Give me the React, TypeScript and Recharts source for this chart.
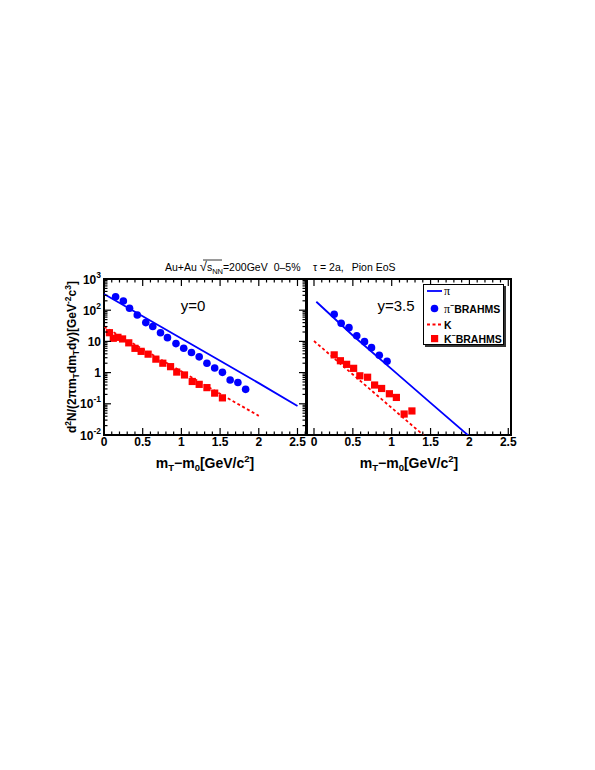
import { ComposedChart, Line, Scatter, XAxis, YAxis, Legend, ReferenceArea } from 'recharts'

const FONT = '"Liberation Sans", Arial, Helvetica, sans-serif'
const BLUE = '#0000ff'
const RED = '#ff0000'
const PLOT_H = 156

// y = 0 panel
const piModelY0X = [0, 0.5, 1, 1.5, 2, 2.5]
const piModelY0 = [330, 64, 12.3, 2.4, 0.46, 0.085]
const kModelY0X = [0, 0.5, 1, 1.5, 2]
const kModelY0 = [29.5, 5.7, 1.1, 0.21, 0.041]
const piDataY0X = [0.15, 0.25, 0.33, 0.43, 0.54, 0.63, 0.73, 0.82, 0.93, 1.03, 1.13, 1.23, 1.33, 1.43, 1.53, 1.63, 1.73, 1.83]
const piDataY0 = [271, 197, 115, 70, 40, 30, 19, 13.2, 8.5, 6.0, 4.4, 3.2, 2.0, 1.41, 1.02, 0.58, 0.48, 0.29]
const kDataY0X = [0.07, 0.12, 0.18, 0.24, 0.32, 0.4, 0.48, 0.57, 0.67, 0.76, 0.86, 0.94, 1.04, 1.14, 1.23, 1.33, 1.43, 1.53]
const kDataY0 = [19, 12.6, 13.5, 12, 9, 6, 4.8, 3.9, 2.7, 2.0, 1.55, 1.04, 0.84, 0.52, 0.42, 0.33, 0.22, 0.155]

// y = 3.5 panel
const piModelY35X = [0.03, 0.5, 1, 1.5, 2]
const piModelY35 = [187, 15.5, 1.29, 0.107, 0.009]
const kModelY35X = [0, 0.5, 1, 1.41]
const kModelY35 = [10.3, 0.87, 0.074, 0.0098]
const piDataY35X = [0.26, 0.35, 0.45, 0.55, 0.65, 0.74, 0.84, 0.94]
const piDataY35 = [74, 38, 27.6, 15.2, 9.8, 6.3, 3.6, 2.3]
const kDataY35X = [0.26, 0.34, 0.42, 0.51, 0.59, 0.69, 0.78, 0.87, 0.97, 1.06, 1.16, 1.26]
const kDataY35 = [3.7, 2.4, 1.84, 1.37, 0.79, 0.71, 0.4, 0.31, 0.21, 0.16, 0.047, 0.059]

const X_TICKS_LEFT = [0, 0.1, 0.2, 0.3, 0.4, 0.5, 0.6, 0.7, 0.8, 0.9, 1, 1.1, 1.2, 1.3, 1.4, 1.5, 1.6, 1.7, 1.8, 1.9, 2, 2.1, 2.2, 2.3, 2.4, 2.5, 2.6]
const X_TICKS_RIGHT = [0, 0.1, 0.2, 0.3, 0.4, 0.5, 0.6, 0.7, 0.8, 0.9, 1, 1.1, 1.2, 1.3, 1.4, 1.5, 1.6, 1.7, 1.8, 1.9, 2, 2.1, 2.2, 2.3, 2.4, 2.5]
const Y_TICKS = [
  0.01, 0.02, 0.03, 0.04, 0.05, 0.06, 0.07, 0.08, 0.09,
  0.1, 0.2, 0.3, 0.4, 0.5, 0.6, 0.7, 0.8, 0.9,
  1, 2, 3, 4, 5, 6, 7, 8, 9,
  10, 20, 30, 40, 50, 60, 70, 80, 90,
  100, 200, 300, 400, 500, 600, 700, 800, 900, 1000,
]
const Y_LABELS: Record<string, [string, string]> = {
  '0.01': ['10', '-2'],
  '0.1': ['10', '-1'],
  '1': ['1', ''],
  '10': ['10', ''],
  '100': ['10', '2'],
  '1000': ['10', '3'],
}

const zip = (xs: number[], ys: number[]) => xs.map((x, i) => ({ x, y: ys[i] }))

// bottom axis tick: draws inward ticks at bottom and top of the frame plus the label
function XTick({ x, y, payload }: any) {
  const v = payload.value
  const major = Math.abs(v * 2 - Math.round(v * 2)) < 1e-6
  const len = major ? 7 : 3.5
  const top = y - PLOT_H
  return (
    <g>
      <line x1={x} y1={y} x2={x} y2={y - len} stroke="#000" strokeWidth={1.2} />
      <line x1={x} y1={top} x2={x} y2={top + len} stroke="#000" strokeWidth={1.2} />
      {major && (
        <text x={x} y={y + 11} textAnchor="middle" fontFamily={FONT} fontWeight="bold" fontSize={12} fill="#000">
          {Number.isInteger(v) ? String(v) : v.toFixed(1)}
        </text>
      )}
    </g>
  )
}

// left axis tick: inward ticks on both sides of the frame, label optional
function YTick({ x, y, payload, plotW, showLabel }: any) {
  const v = payload.value
  const lg = Math.log10(v)
  const major = Math.abs(lg - Math.round(lg)) < 1e-6
  const len = major ? 7 : 3.5
  const right = x + plotW
  const lab = Y_LABELS[String(v)]
  return (
    <g>
      <line x1={x} y1={y} x2={x + len} y2={y} stroke="#000" strokeWidth={1.2} />
      <line x1={right} y1={y} x2={right - len} y2={y} stroke="#000" strokeWidth={1.2} />
      {showLabel && major && lab && (
        <text x={x - 3} y={y + 4.5} textAnchor="end" fontFamily={FONT} fontWeight="bold" fontSize={12} fill="#000">
          {lab[0]}
          {lab[1] && <tspan fontSize={8.5} dy={-6}>{lab[1]}</tspan>}
        </text>
      )}
    </g>
  )
}

const circle = (p: any) => <circle cx={p.cx} cy={p.cy} r={3.8} fill={BLUE} />
const square = (p: any) => <rect x={p.cx - 3.6} y={p.cy - 3.6} width={7.2} height={7.2} fill={RED} />

function LegendBox() {
  const t = { fontFamily: FONT, fontSize: 10.5, fontWeight: 'bold' as const, fill: '#000' }
  return (
    <div style={{ width: 79, height: 59, background: '#fff', border: '1px solid #000', boxShadow: '2px 2px 0 #333' }}>
      <svg width={79} height={59} style={{ display: 'block', overflow: 'visible' }}>
        <line x1={3} y1={6} x2={18} y2={6} stroke={BLUE} strokeWidth={1.8} />
        <text x={20} y={10} {...t} fontWeight="normal" fontFamily="'Liberation Serif', serif" fontSize={12}>π</text>
        <circle cx={10.5} cy={23.5} r={3.8} fill={BLUE} />
        <text x={20} y={27.5} {...t}>
          <tspan fontWeight="normal" fontFamily="'Liberation Serif', serif" fontSize={12}>π</tspan>
          <tspan fontSize={7} dy={-5}>−</tspan>
          <tspan dy={5}>BRAHMS</tspan>
        </text>
        <line x1={3} y1={39.5} x2={18} y2={39.5} stroke={RED} strokeWidth={1.8} strokeDasharray="3 2.5" />
        <text x={20} y={43.5} {...t}>K</text>
        <rect x={7} y={50} width={7.2} height={7.2} fill={RED} />
        <text x={20} y={57.5} {...t}>
          K<tspan fontSize={7} dy={-5}>−</tspan>
          <tspan dy={5}>BRAHMS</tspan>
        </text>
      </svg>
    </div>
  )
}

function XTitle({ cx }: { cx: number }) {
  return (
    <text x={cx} y={468} textAnchor="middle" fontFamily={FONT} fontWeight="bold" fontSize={14} fill="#000">
      m<tspan fontSize={9.5} dy={3}>T</tspan>
      <tspan dy={-3}>−m</tspan>
      <tspan fontSize={9.5} dy={3}>0</tspan>
      <tspan dy={-3}>[GeV/c</tspan>
      <tspan fontSize={9.5} dy={-6}>2</tspan>
      <tspan dy={6}>]</tspan>
    </text>
  )
}

const LEFT_DOMAIN = [0, 2.61]
const RIGHT_DOMAIN = [-0.09, 2.535]

export default function App() {
  return (
    <div style={{ position: 'absolute', left: 0, top: 0, width: 595, height: 770 }}>
      <div style={{ position: 'absolute', left: 40, top: 259 }}>
        <ComposedChart width={268} height={206} margin={{ top: 20, right: 2, bottom: 0, left: 0 }}>
          <XAxis type="number" dataKey="x" domain={LEFT_DOMAIN} ticks={X_TICKS_LEFT} interval={0} allowDataOverflow
            height={30} tickSize={0} tickMargin={0} tickLine={false} axisLine={false}
            tick={(p: any) => <XTick {...p} />} />
          <YAxis type="number" dataKey="y" scale="log" domain={[0.01, 1000]} ticks={Y_TICKS} interval={0} allowDataOverflow
            width={64} tickSize={0} tickMargin={0} tickLine={false} axisLine={false}
            tick={(p: any) => <YTick {...p} plotW={202} showLabel />} />
          <ReferenceArea x1={LEFT_DOMAIN[0]} x2={LEFT_DOMAIN[1]} y1={0.01} y2={1000} fill="none" stroke="#000" strokeWidth={2} ifOverflow="visible" />
          <Line data={zip(piModelY0X, piModelY0)} dataKey="y" type="linear" stroke={BLUE} strokeWidth={1.8} dot={false} isAnimationActive={false} />
          <Line data={zip(kModelY0X, kModelY0)} dataKey="y" type="linear" stroke={RED} strokeWidth={1.8} strokeDasharray="3 2.5" dot={false} isAnimationActive={false} />
          <Scatter data={zip(piDataY0X, piDataY0)} dataKey="y" shape={circle} isAnimationActive={false} />
          <Scatter data={zip(kDataY0X, kDataY0)} dataKey="y" shape={square} isAnimationActive={false} />
        </ComposedChart>
      </div>
      <div style={{ position: 'absolute', left: 297, top: 259 }}>
        <ComposedChart width={226} height={206} margin={{ top: 20, right: 12, bottom: 0, left: 10 }}>
          <XAxis type="number" dataKey="x" domain={RIGHT_DOMAIN} ticks={X_TICKS_RIGHT} interval={0} allowDataOverflow
            height={30} tickSize={0} tickMargin={0} tickLine={false} axisLine={false}
            tick={(p: any) => <XTick {...p} />} />
          <YAxis type="number" dataKey="y" scale="log" domain={[0.01, 1000]} ticks={Y_TICKS} interval={0} allowDataOverflow
            width={0} tickSize={0} tickMargin={0} tickLine={false} axisLine={false}
            tick={(p: any) => <YTick {...p} plotW={204} />} />
          <ReferenceArea x1={RIGHT_DOMAIN[0]} x2={RIGHT_DOMAIN[1]} y1={0.01} y2={1000} fill="none" stroke="#000" strokeWidth={2} ifOverflow="visible" />
          <Line data={zip(piModelY35X, piModelY35)} dataKey="y" type="linear" stroke={BLUE} strokeWidth={1.8} dot={false} isAnimationActive={false} />
          <Line data={zip(kModelY35X, kModelY35)} dataKey="y" type="linear" stroke={RED} strokeWidth={1.8} strokeDasharray="3 2.5" dot={false} isAnimationActive={false} />
          <Scatter data={zip(piDataY35X, piDataY35)} dataKey="y" shape={circle} isAnimationActive={false} />
          <Scatter data={zip(kDataY35X, kDataY35)} dataKey="y" shape={square} isAnimationActive={false} />
          <Legend layout="vertical" align="center" verticalAlign="middle" content={() => <LegendBox />}
            wrapperStyle={{ left: 126, top: 25, width: 81, height: 61 }} />
        </ComposedChart>
      </div>
      <svg width={595} height={770} style={{ position: 'absolute', left: 0, top: 0, pointerEvents: 'none' }}>
        <text x={165} y={271} fontFamily={FONT} fontSize={10.5} fill="#000">
          Au+Au <tspan fontSize={13}>√</tspan>
          <tspan>s</tspan>
          <tspan fontSize={7.5} dy={2.5}>NN</tspan>
          <tspan dy={-2.5}>=200GeV</tspan>
          <tspan dx={6}>0–5%</tspan>
        </text>
        <line x1={203} y1={260} x2={222} y2={260} stroke="#000" strokeWidth={0.8} />
        <text x={313} y={271} fontFamily={FONT} fontSize={10.5} fill="#000">
          τ = 2a,<tspan dx={8}>Pion EoS</tspan>
        </text>
        <text x={193} y={311} textAnchor="middle" fontFamily={FONT} fontSize={15} fill="#000">y=0</text>
        <text x={396} y={311} textAnchor="middle" fontFamily={FONT} fontSize={15} fill="#000">y=3.5</text>
        <XTitle cx={205} />
        <XTitle cx={409} />
        <text transform="translate(76 357) rotate(-90)" textAnchor="middle" fontFamily={FONT} fontWeight="bold" fontSize={12} fill="#000">
          d<tspan fontSize={8.5} dy={-5}>2</tspan>
          <tspan dy={5}>N/(2πm</tspan>
          <tspan fontSize={8.5} dy={3}>T</tspan>
          <tspan dy={-3}>dm</tspan>
          <tspan fontSize={8.5} dy={3}>T</tspan>
          <tspan dy={-3}>dy)[GeV</tspan>
          <tspan fontSize={8.5} dy={-5}>-2</tspan>
          <tspan dy={5}>c</tspan>
          <tspan fontSize={8.5} dy={-5}>3</tspan>
          <tspan dy={5}>]</tspan>
        </text>
      </svg>
    </div>
  )
}
